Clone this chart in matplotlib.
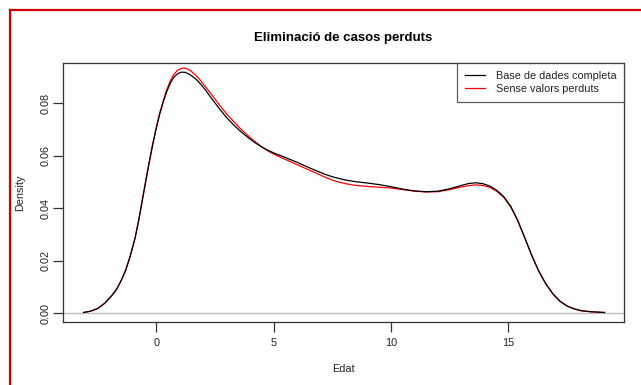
import matplotlib
matplotlib.use("Agg")
import matplotlib.pyplot as plt
from matplotlib.lines import Line2D

plt.rcParams['font.family'] = ['Liberation Sans', 'DejaVu Sans']

# Density estimates
edat = [-3.1, -2.8, -2.5, -2.2, -1.9, -1.7, -1.5, -1.3, -1.1, -0.9, -0.75,
        -0.6, -0.45, -0.3, -0.15, 0.0, 0.15, 0.3, 0.45, 0.6, 0.75, 0.9,
        1.05, 1.2, 1.35, 1.5, 1.7, 1.9, 2.1, 2.4, 2.7, 3.0, 3.3, 3.6, 3.9,
        4.2, 4.5, 4.8, 5.1, 5.4, 5.7, 6.0, 6.3, 6.6, 6.9, 7.2, 7.5, 7.8,
        8.1, 8.5, 9.0, 9.5, 10.0, 10.5, 11.0, 11.5, 12.0, 12.5, 13.0, 13.3,
        13.6, 13.9, 14.2, 14.5, 14.8, 15.1, 15.4, 15.7, 16.0, 16.3, 16.6,
        16.9, 17.2, 17.5, 17.8, 18.1, 18.5, 19.1]
dens_completa = [0.0003, 0.0008, 0.0018, 0.0038, 0.0067, 0.0090, 0.0124,
                 0.0165, 0.0221, 0.0288, 0.0354, 0.0428, 0.0502, 0.0575,
                 0.0643, 0.0705, 0.0760, 0.0806, 0.0845, 0.0877, 0.0899,
                 0.0912, 0.0918, 0.0918, 0.0913, 0.0905, 0.0891, 0.0872,
                 0.0850, 0.0813, 0.0778, 0.0745, 0.0717, 0.0692, 0.0670,
                 0.0650, 0.0633, 0.0619, 0.0607, 0.0597, 0.0586, 0.0575,
                 0.0563, 0.0551, 0.0540, 0.0529, 0.0520, 0.0513, 0.0507,
                 0.0501, 0.0496, 0.0490, 0.0482, 0.0473, 0.0466, 0.0463,
                 0.0465, 0.0474, 0.0487, 0.0494, 0.0497, 0.0494, 0.0485,
                 0.0469, 0.0445, 0.0408, 0.0354, 0.0288, 0.0220, 0.0160,
                 0.0112, 0.0074, 0.0046, 0.0028, 0.0017, 0.0010, 0.0006,
                 0.0003]
dens_sense = [0.0003, 0.0008, 0.0018, 0.0038, 0.0067, 0.0090, 0.0124,
              0.0165, 0.0221, 0.0288, 0.0354, 0.0429, 0.0504, 0.0577,
              0.0646, 0.0708, 0.0764, 0.0810, 0.0852, 0.0886, 0.0910,
              0.0925, 0.0932, 0.0934, 0.0930, 0.0921, 0.0905, 0.0885,
              0.0862, 0.0828, 0.0792, 0.0759, 0.0730, 0.0702, 0.0677,
              0.0654, 0.0633, 0.0616, 0.0602, 0.0590, 0.0578, 0.0566,
              0.0554, 0.0542, 0.0530, 0.0518, 0.0507, 0.0499, 0.0493,
              0.0487, 0.0483, 0.0480, 0.0477, 0.0471, 0.0465, 0.0462,
              0.0463, 0.0471, 0.0481, 0.0486, 0.0489, 0.0487, 0.0480,
              0.0465, 0.0442, 0.0406, 0.0353, 0.0288, 0.0220, 0.0160,
              0.0112, 0.0074, 0.0046, 0.0028, 0.0017, 0.0010, 0.0006,
              0.0003]
xticks = [0, 5, 10, 15]
yticks = [0.00, 0.02, 0.04, 0.06, 0.08]
ytick_labels = ["0.00", "0.02", "0.04", "0.06", "0.08"]
labels = ["Base de dades completa", "Sense valors perduts"]
title = "Eliminació de casos perduts"

W, H = 641, 385
fig = plt.figure(figsize=(W / 100, H / 100), dpi=100)
fig.patch.set_facecolor('white')

L, R, T, B = 63, 624, 63.3, 322.3
ax = fig.add_axes([L / W, 1 - B / H, (R - L) / W, (B - T) / H])

ax.axhline(0, color='#bebebe', lw=1.0, zorder=1)
ax.plot(edat, dens_completa, color='black', lw=0.9, label=labels[0], zorder=3)
ax.plot(edat, dens_sense, color='#ff0000', lw=0.9, label=labels[1], zorder=2)

ax.set_xlim(-3.975, 19.93)
ax.set_ylim(-0.00343, 0.0952)
ax.set_xticks(xticks)
ax.set_xticklabels([str(v) for v in xticks])
ax.set_yticks(yticks)
ax.set_yticklabels(ytick_labels, rotation=90, va='center')

for s in ax.spines.values():
    s.set_color('#333333')
    s.set_linewidth(0.9)
ax.tick_params(axis='both', colors='#333333', labelcolor='#222222',
               length=7, width=0.9, labelsize=7.8)
ax.tick_params(axis='x', pad=4)
ax.tick_params(axis='y', pad=2)

ax.set_xlabel("Edat", fontsize=7.8, color='#222222', labelpad=12)
ax.set_ylabel("Density", fontsize=7.8, color='#222222', labelpad=11)
fig.text((L + R) / 2 / W, 1 - 38.3 / H, title, ha='center', va='center',
         fontsize=9.5, fontweight='bold', color='black')

leg = ax.legend(loc='upper right', bbox_to_anchor=(1, 1), borderaxespad=0,
                fancybox=False, frameon=True, fontsize=7.8,
                handlelength=1.85, handletextpad=0.95, labelspacing=0.25,
                borderpad=0.72)
leg.get_frame().set_edgecolor('#333333')
leg.get_frame().set_linewidth(0.9)
for t in leg.get_texts():
    t.set_color('#222222')

# red screenshot border
fig.add_artist(Line2D([10 / W, 10 / W], [0, 1 - 10 / H],
                      transform=fig.transFigure, color='#d00000', lw=1.6))
fig.add_artist(Line2D([10 / W, 1], [1 - 10 / H, 1 - 10 / H],
                      transform=fig.transFigure, color='#d00000', lw=1.6))

fig.savefig("out.png", dpi=100)
